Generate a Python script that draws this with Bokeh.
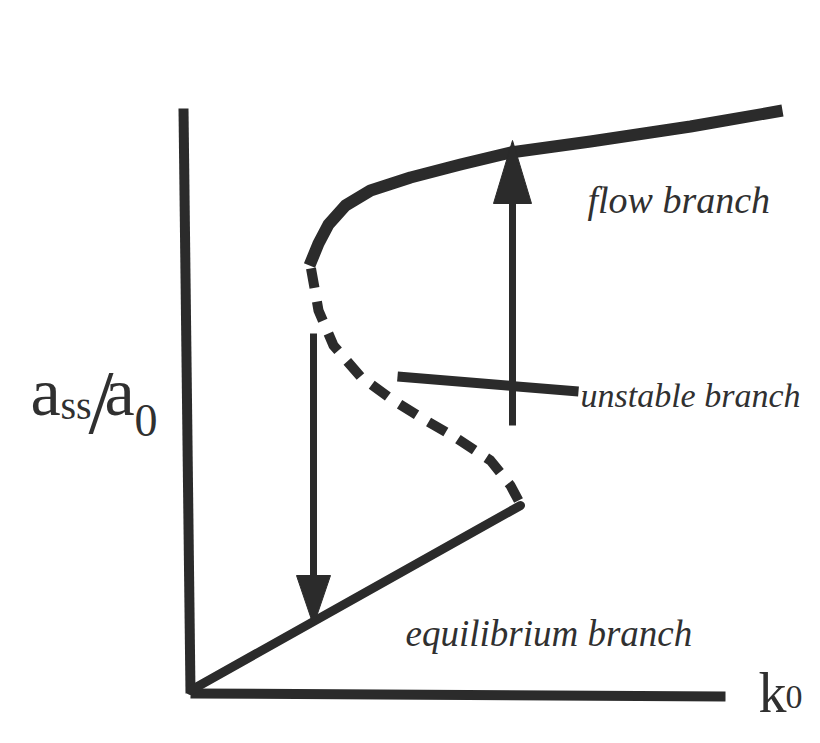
from bokeh.plotting import figure
from bokeh.models import Range1d
from bokeh.core.properties import value
from bokeh.embed import file_html
from bokeh.resources import INLINE

# ---- data (schematic units: k0 to the right, a_ss/a0 upward) ----
eq_k = [2, 332]
eq_a = [3, 188]

unstable_k = [330, 322, 302, 267, 234, 202, 172, 145, 130, 122]
unstable_a = [193, 208, 233, 256, 275, 295, 317, 348, 383, 428]

flow_k = [121, 130, 140, 157, 182, 222, 272, 322, 402, 502, 594]
flow_a = [428, 450, 469, 488, 503, 516, 529, 541, 552, 567, 583]

yaxis_k = [-5, 2]
yaxis_a = [585, 0]
xaxis_k = [2, 537]
xaxis_a = [0, -3]

# jump arrows: (k, start, end)
down_k, down_from, down_to = 125, 360, 68
up_k, up_from, up_to = 324, 268, 553

pointer_k = [209, 390]
pointer_a = [317, 302]

labels = ["flow branch", "unstable branch", "equilibrium branch"]
label_k = [399, 392, 217]
label_a = [494, 298, 60]
label_size = ["38px", "34px", "37px"]

INK = "#2b2b2b"
TXT = "#303030"

p = figure(width=804, height=727, x_range=Range1d(-188, 616), y_range=Range1d(-34, 693),
           output_backend="svg", toolbar_location=None, min_border=0,
           x_axis_type=None, y_axis_type=None)
p.grid.visible = False
p.outline_line_color = None
p.background_fill_color = "white"
p.border_fill_color = "white"

# axes drawn as thick strokes
p.line(yaxis_k, yaxis_a, line_width=10, line_color=INK, line_cap="butt")
p.line(xaxis_k, xaxis_a, line_width=10, line_color=INK, line_cap="butt")

# branches
p.line(eq_k, eq_a, line_width=9, line_color=INK, line_cap="round")
p.line(unstable_k, unstable_a, line_width=10, line_color=INK, line_dash="20 14",
       line_cap="butt", line_join="round")
p.line(flow_k, flow_a, line_width=12, line_color=INK, line_cap="butt", line_join="round")

# pointer to unstable branch
p.line(pointer_k, pointer_a, line_width=10, line_color=INK, line_cap="butt")

# arrows
def arrow(k, a0, a1, head_len, head_half):
    sign = 1 if a1 > a0 else -1
    base = a1 - sign * head_len
    p.line([k, k], [a0, base], line_width=7, line_color=INK, line_cap="butt")
    p.patch([k - head_half, k + head_half, k], [base, base, a1], fill_color=INK, line_color=INK)

arrow(down_k, down_from, down_to, 50, 17)
arrow(up_k, up_from, up_to, 63, 19)

# branch labels
for t, xk, ya, sz in zip(labels, label_k, label_a, label_size):
    p.text(x=[xk], y=[ya], text=[t], text_font=value("Liberation Serif"),
           text_font_style="italic", text_font_size=sz, text_color=TXT,
           text_baseline="alphabetic", text_align="left")

# axis labels
serif = value("Liberation Serif")
p.text(x=[-158], y=[302], text=["a"], text_font=serif, text_font_size="68px",
       text_color=TXT, text_baseline="alphabetic")
p.text(x=[-128], y=[288], text=["ss"], text_font=serif, text_font_size="40px",
       text_color=TXT, text_baseline="alphabetic")
p.text(x=[-100], y=[291], text=["/"], text_font=serif, text_font_size="90px",
       text_color=TXT, text_baseline="alphabetic")
p.text(x=[-84], y=[302], text=["a"], text_font=serif, text_font_size="68px",
       text_color=TXT, text_baseline="alphabetic")
p.text(x=[-54], y=[273], text=["0"], text_font=serif, text_font_size="46px",
       text_color=TXT, text_baseline="alphabetic")

p.text(x=[570], y=[1], text=["k"], text_font=serif, text_font_size="56px",
       text_color=TXT, text_baseline="alphabetic")
p.text(x=[597], y=[-3], text=["0"], text_font=serif, text_font_size="34px",
       text_color=TXT, text_baseline="alphabetic")

open("out.html", "w").write(file_html(p, INLINE))
